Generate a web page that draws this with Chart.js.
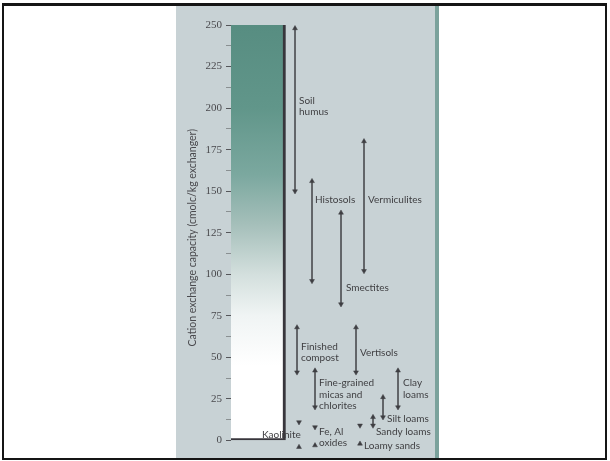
<!DOCTYPE html>
<html>
<head>
<meta charset="utf-8">
<script src="https://cdn.jsdelivr.net/npm/chart.js@4.4.1/dist/chart.umd.min.js"></script>
<style>
  html, body { margin: 0; padding: 0; background: #fff; }
  #frame { position: relative; width: 610px; height: 461px; overflow: hidden; background: #fff; }
  #panel { position: absolute; left: 176px; top: 5px; width: 259px; height: 454px; background: #c8d2d5; border-right: 4px solid #7ba29c; }
  #border { position: absolute; left: 2px; top: 3px; width: 605px; height: 457px; box-sizing: border-box; border: 2px solid #151515; border-top-width: 3px; }
  canvas { position: absolute; left: 0; top: 0; }
</style>
</head>
<body>
<div id="frame">
  <div id="panel"></div>
  <canvas id="cec" width="610" height="461"></canvas>
  <div id="border"></div>
</div>
<script>
// Echelle CEC (cmolc/kg)
const tickValues = [0, 25, 50, 75, 100, 125, 150, 175, 200, 225, 250];
const barTop = 250;
const barColumn = 26;

// Plages avec flèches doubles
const rangeNames = ['Soil humus', 'Histosols', 'Smectites', 'Vermiculites', 'Finished compost',
  'Vertisols', 'Fine-grained micas and chlorites', 'Clay loams', 'Silt loams', 'Sandy loams'];
const rangeHigh = [248, 156, 137, 180, 68, 68, 42, 42, 26, 14];
const rangeLow = [150, 96, 82, 102, 41, 41, 20, 20, 14, 9];
const rangeColumn = [64, 81, 110, 133, 66, 125, 84, 167, 152, 142];

// Plages étroites (flèches vers l'intérieur)
const narrowNames = ['Kaolinite', 'Fe, Al oxides', 'Loamy sands'];
const narrowHigh = [11, 8, 9];
const narrowLow = [-4, -3, -2];
const narrowColumn = [68, 84, 129];

// Etiquettes
const labelText = [['Soil', 'humus'], ['Histosols'], ['Smectites'], ['Vermiculites'], ['Finished', 'compost'],
  ['Vertisols'], ['Fine-grained', 'micas and', 'chlorites'], ['Clay', 'loams'], ['Silt loams'], ['Sandy loams'],
  ['Kaolinite'], ['Fe, Al', 'oxides'], ['Loamy sands']];
const labelColumn = [68, 84, 115, 137, 70, 129, 88, 172, 156, 145, 31, 88, 133];
const labelLevel = [201, 145, 92, 145, 53, 53, 27.5, 31, 13, 5.4, 3.6, 1.8, -3];

const gradientStops = [[250, '#578d81'], [200, '#61968a'], [160, '#7ba89f'], [130, '#a5bfba'],
  [100, '#d3dfdd'], [75, '#f0f4f4'], [45, '#ffffff'], [0, '#ffffff']];

function barGradient(c) {
  const chart = c.chart;
  if (!chart.chartArea) return '#578d81';
  const y = chart.scales.y;
  const g = chart.ctx.createLinearGradient(0, y.getPixelForValue(barTop), 0, y.getPixelForValue(0));
  gradientStops.forEach(s => g.addColorStop((barTop - s[0]) / barTop, s[1]));
  return g;
}

const arrowColor = '#3e3e42';
const textColor = '#3f3f42';

const datasets = [{
  type: 'bar',
  label: 'CEC',
  data: [{ x: barColumn, y: barTop }],
  backgroundColor: barGradient,
  borderColor: '#38363c',
  borderWidth: { top: 0, left: 0, right: 3, bottom: 2 },
  borderSkipped: false,
  barThickness: 57,
  order: 5
}];

rangeNames.forEach((name, i) => {
  datasets.push({
    type: 'line',
    label: name,
    data: [{ x: rangeColumn[i], y: rangeHigh[i] }, { x: rangeColumn[i], y: rangeLow[i] }],
    borderColor: '#55565a',
    borderWidth: 1,
    tension: 0,
    pointStyle: 'triangle',
    pointRadius: 2.8,
    pointRotation: [0, 180],
    pointBackgroundColor: arrowColor,
    pointBorderColor: arrowColor,
    pointBorderWidth: 0.5,
    clip: false,
    order: 1
  });
});

narrowNames.forEach((name, i) => {
  datasets.push({
    type: 'line',
    label: name,
    data: [{ x: narrowColumn[i], y: narrowHigh[i] }, { x: narrowColumn[i], y: narrowLow[i] }],
    showLine: false,
    pointStyle: 'triangle',
    pointRadius: 2.8,
    pointRotation: [180, 0],
    pointBackgroundColor: arrowColor,
    pointBorderColor: arrowColor,
    pointBorderWidth: 0.5,
    clip: false,
    order: 1
  });
});

// Etiquettes des plages
const rangeLabels = {
  id: 'rangeLabels',
  afterDatasetsDraw(chart) {
    const { ctx, scales } = chart;
    ctx.save();
    ctx.font = '10px Lato';
    ctx.fillStyle = textColor;
    ctx.textAlign = 'left';
    ctx.textBaseline = 'middle';
    labelText.forEach((lines, i) => {
      const x = scales.x.getPixelForValue(labelColumn[i]);
      const y = scales.y.getPixelForValue(labelLevel[i]);
      lines.forEach((t, j) => {
        ctx.fillText(t, x, y + (j - (lines.length - 1) / 2) * 11.5);
      });
    });
    ctx.restore();
  }
};

new Chart(document.getElementById('cec'), {
  type: 'line',
  data: { datasets: datasets },
  options: {
    responsive: false,
    animation: false,
    layout: { padding: { left: 176, right: 179, top: 25, bottom: 9 } },
    scales: {
      x: {
        type: 'linear',
        min: 0,
        max: 200,
        offset: false,
        display: false
      },
      y: {
        type: 'linear',
        min: -6,
        max: 250,
        afterFit: s => { s.width = 55; },
        afterBuildTicks: s => {
          // graduations principales + mineures à mi-chemin
          const t = [];
          tickValues.forEach((v, i) => {
            t.push({ value: v });
            if (i < tickValues.length - 1) t.push({ value: (v + tickValues[i + 1]) / 2 });
          });
          s.ticks = t;
        },
        border: { display: false },
        grid: {
          drawOnChartArea: false,
          drawTicks: true,
          tickLength: 5,
          tickWidth: 1,
          tickColor: c => (tickValues.includes(c.tick.value) ? '#55565a' : '#8a9092')
        },
        ticks: {
          autoSkip: false,
          padding: 4,
          color: '#4a4a4e',
          font: { family: "'Liberation Serif', serif", size: 11 },
          callback: v => (tickValues.includes(v) ? String(v) : '')
        },
        title: {
          display: true,
          text: 'Cation exchange capacity (cmolc/kg exchanger)',
          color: '#4a4a4e',
          font: { family: 'Lato', size: 10.5 },
          padding: { top: 10, bottom: 0 }
        }
      }
    },
    plugins: {
      legend: { display: false },
      tooltip: { enabled: false }
    }
  },
  plugins: [rangeLabels]
});
</script>
</body>
</html>
